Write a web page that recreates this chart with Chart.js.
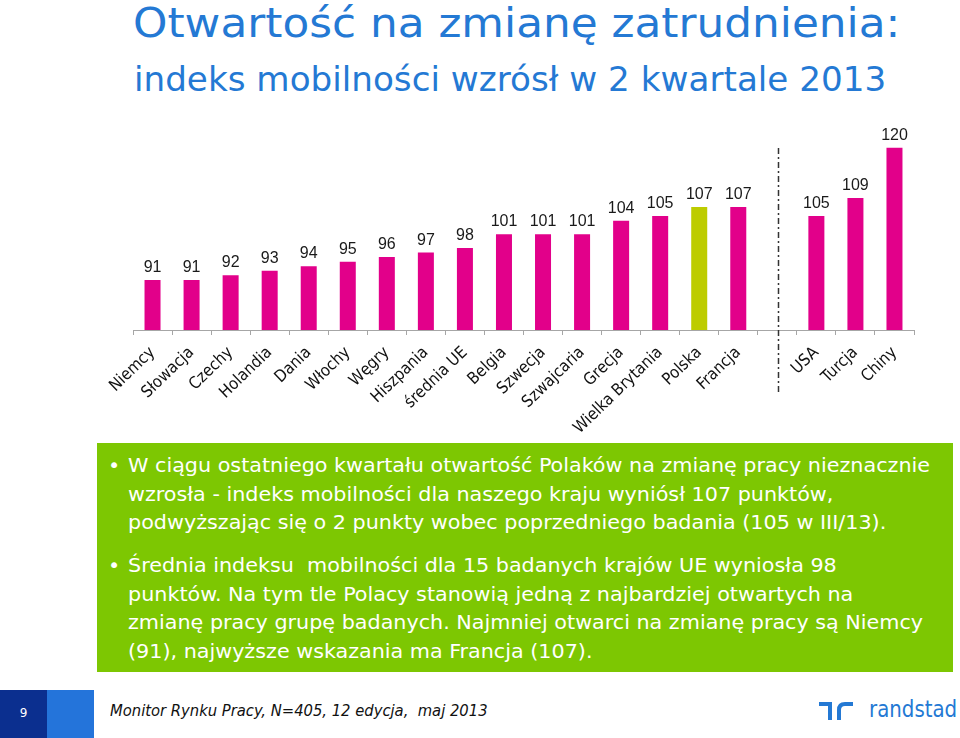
<!DOCTYPE html>
<html>
<head>
<meta charset="utf-8">
<script src="https://cdn.jsdelivr.net/npm/chart.js@4/dist/chart.umd.min.js"></script>
<style>
  html, body { margin:0; padding:0; background:#fff; }
  #wrap { position:relative; width:960px; height:738px; overflow:hidden; background:#fff; }
  .fit { position:absolute; white-space:nowrap; transform-origin:0 0; }
  #title { left:133px; top:0px; font-family:"DejaVu Sans", sans-serif; font-size:40px; color:#2479d4; }
  #subtitle { left:134px; top:59px; font-family:"DejaVu Sans", sans-serif; font-size:34px; color:#2479d4; }
  #chartBox { position:absolute; left:0; top:0; width:960px; height:440px; }
  #green { position:absolute; left:97px; top:443px; width:856px; height:229px; background:#7dc702; }
  .para { left:31px; font-family:"DejaVu Sans Condensed","DejaVu Sans",sans-serif; font-size:19.5px; color:#fff; line-height:28.7px; }
  .b { position:absolute; left:-17px; top:0; }
  #sq1 { position:absolute; left:0; top:690px; width:47px; height:48px; background:#0b2f8f; color:#fff; font-family:"DejaVu Sans",sans-serif; font-size:12px; text-align:center; line-height:46px; }
  #sq2 { position:absolute; left:47px; top:690px; width:47px; height:48px; background:#2474da; }
  #foot { left:110px; top:701px; font-family:"DejaVu Sans Condensed","DejaVu Sans",sans-serif; font-style:italic; font-size:16.5px; color:#111; }
  #logo { position:absolute; left:818px; top:700px; }
  #logotxt { left:869px; top:696px; font-family:"DejaVu Sans Condensed","DejaVu Sans",sans-serif; font-size:23px; color:#2479d4; }
</style>
</head>
<body>
<div id="wrap">
  <div id="title" class="fit" data-w="767">Otwartość na zmianę zatrudnienia:</div>
  <div id="subtitle" class="fit" data-w="752">indeks mobilności wzrósł w 2 kwartale 2013</div>
  <div id="chartBox"><canvas id="c" width="960" height="440"></canvas></div>
  <div id="green">
    <div class="para fit" id="p1" style="top:9px"><span class="b">•</span>W ciągu ostatniego kwartału otwartość Polaków na zmianę pracy nieznacznie<br>wzrosła - indeks mobilności dla naszego kraju wyniósł 107 punktów,<br>podwyższając się o 2 punkty wobec poprzedniego badania (105 w III/13).</div>
    <div class="para fit" id="p2" style="top:109px"><span class="b">•</span>Średnia indeksu&nbsp; mobilności dla 15 badanych krajów UE wyniosła 98<br>punktów. Na tym tle Polacy stanowią jedną z najbardziej otwartych na<br>zmianę pracy grupę badanych. Najmniej otwarci na zmianę pracy są Niemcy<br>(91), najwyższe wskazania ma Francja (107).</div>
  </div>
  <div id="sq1">9</div>
  <div id="sq2"></div>
  <div id="foot" class="fit" data-w="378">Monitor Rynku Pracy, N=405, 12 edycja,&nbsp; maj 2013</div>
  <svg id="logo" width="36" height="22" viewBox="0 0 36 22">
    <path d="M1 4 H12 V20" stroke="#2479d4" stroke-width="4" fill="none"/>
    <path d="M21 20 V10 Q21 4 27 4 H35" stroke="#2479d4" stroke-width="4" fill="none"/>
  </svg>
  <div id="logotxt" class="fit" data-w="88">randstad</div>
</div>
<script>
const categories = ["Niemcy","Słowacja","Czechy","Holandia","Dania","Włochy","Węgry","Hiszpania","średnia UE","Belgia","Szwecja","Szwajcaria","Grecja","Wielka Brytania","Polska","Francja","","USA","Turcja","Chiny"];
const values = [91,91,92,93,94,95,96,97,98,101,101,101,104,105,107,107,null,105,109,120];
const highlight = "Polska";
const gapIndex = 16;

// horizontal fitting of HTML text to the reference widths
function fitText(el, target) {
  const w = el.scrollWidth;
  if (w > 0) el.style.transform = "scaleX(" + (target / w) + ")";
}
document.querySelectorAll(".fit[data-w]").forEach(el => fitText(el, +el.dataset.w));
(function () {
  const cv = document.createElement("canvas").getContext("2d");
  cv.font = "19.5px 'DejaVu Sans Condensed', 'DejaVu Sans'";
  const w = cv.measureText("W ciągu ostatniego kwartału otwartość Polaków na zmianę pracy nieznacznie").width;
  const s = 802 / w;
  ["p1", "p2"].forEach(id => document.getElementById(id).style.transform = "scaleX(" + s + ")");
})();

const MAGENTA = "#e2008a";
const LIME = "#bdcc00";
const barColors = categories.map(c => c === highlight ? LIME : MAGENTA);

const valueLabels = {
  id: "valueLabels",
  afterDatasetsDraw(chart) {
    const ctx = chart.ctx;
    const meta = chart.getDatasetMeta(0);
    ctx.save();
    ctx.font = "16px 'Liberation Sans', Arial, sans-serif";
    ctx.fillStyle = "#1a1a1a";
    ctx.textAlign = "center";
    ctx.textBaseline = "alphabetic";
    meta.data.forEach((bar, i) => {
      const v = values[i];
      if (v == null) return;
      ctx.fillText(String(v), bar.x, bar.y - 8);
    });
    ctx.restore();
  }
};

const separator = {
  id: "separator",
  afterDatasetsDraw(chart) {
    const ctx = chart.ctx;
    const x = Math.round(chart.scales.x.getPixelForValue(gapIndex)) + 1.5;
    ctx.save();
    ctx.strokeStyle = "#333";
    ctx.lineWidth = 1.5;
    ctx.setLineDash([6, 3, 2, 3]);
    ctx.beginPath();
    ctx.moveTo(x, 148);
    ctx.lineTo(x, 392);
    ctx.stroke();
    ctx.restore();
  }
};

new Chart(document.getElementById("c"), {
  type: "bar",
  data: {
    labels: categories,
    datasets: [{
      data: values,
      backgroundColor: barColors,
      borderWidth: 0,
      barPercentage: 0.41,
      categoryPercentage: 1.0
    }]
  },
  options: {
    responsive: false,
    animation: false,
    devicePixelRatio: 1,
    layout: { padding: { left: 133, right: 46, top: 125, bottom: 0 } },
    plugins: { legend: { display: false }, tooltip: { enabled: false } },
    scales: {
      y: { display: false, min: 80, max: 125 },
      x: {
        offset: true,
        afterFit(scale) { scale.height = 110; },
        grid: { offset: true, drawOnChartArea: false, drawTicks: true, tickLength: 5, color: "#a6a6a6" },
        border: { display: true, color: "#a6a6a6", width: 1 },
        ticks: {
          minRotation: 44, maxRotation: 44, autoSkip: false,
          color: "#111",
          font: { family: "'DejaVu Sans Condensed', 'DejaVu Sans', sans-serif", size: 16.5 },
          padding: 8
        }
      }
    }
  },
  plugins: [valueLabels, separator]
});
</script>
</body>
</html>
